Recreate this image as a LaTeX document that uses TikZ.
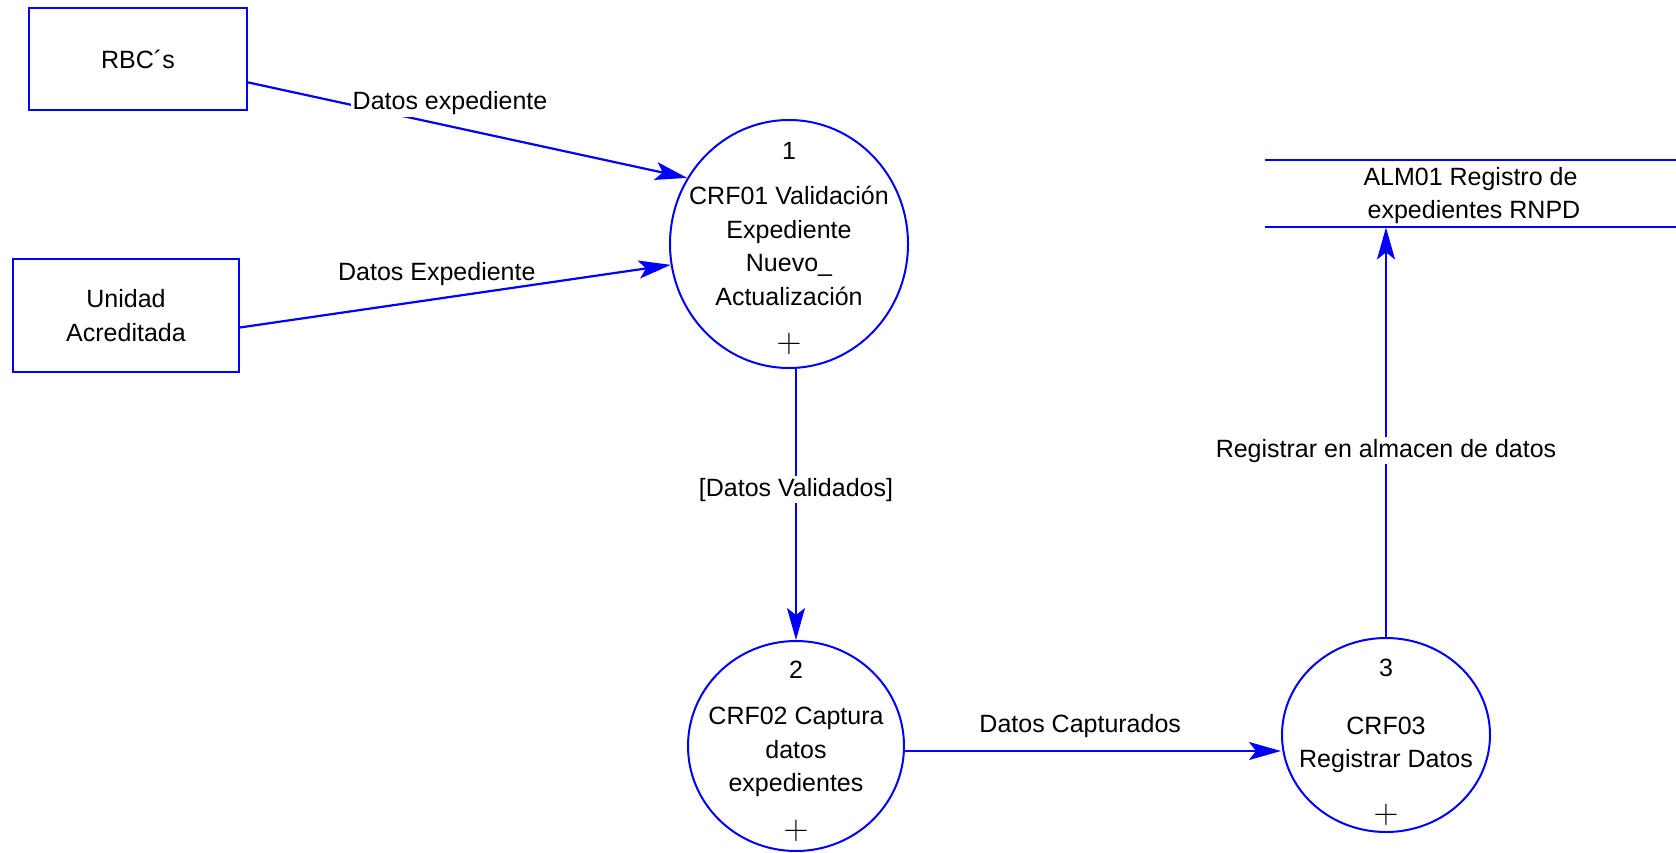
\documentclass[tikz,border=0pt]{standalone}
\usepackage{fontspec}
\setmainfont{Liberation Sans}
\usetikzlibrary{shapes.geometric,arrows.meta}
\tikzset{
  proc/.style={ellipse, draw=blue, line width=1pt, inner sep=0pt},
  ent/.style={rectangle, draw=blue, line width=1pt, align=center},
  flow/.style={draw=blue, line width=1.1pt, -{Stealth[length=16pt,width=9pt,inset=3.5pt]}},
  lbl/.style={fill=white, inner sep=1pt},
  plus/.style={font=\fontsize{17}{17}\selectfont}
}
\begin{document}
\begin{tikzpicture}[x=0.5pt,y=-0.5pt,font=\fontsize{12.5}{16.75}\selectfont]
    \useasboundingbox (0,0) rectangle (1676,852);
    \node[ent, minimum width=109pt, minimum height=51pt] (rbc) at (138,59) {RBC´s};
    \node[ent, minimum width=113pt, minimum height=56.5pt] (ua) at (126,315.5) {Unidad\\Acreditada};
    \node[proc, minimum width=119pt, minimum height=124pt] (p1) at (789,244) {};
    \node[align=center] (t1) at ([yshift=-1pt]p1.center) {CRF01 Validación\\Expediente\\Nuevo\_\\Actualización};
    \node (n1) at ([yshift=-16pt]p1.north) {1};
    \node[plus] (x1) at ([yshift=12.5pt]p1.south) {$+$};
    \node[proc, minimum width=108pt, minimum height=105pt] (p2) at (796,746) {};
    \node[align=center] (t2) at ([yshift=-3pt]p2.center) {CRF02 Captura\\datos\\expedientes};
    \node (n2) at ([yshift=-15pt]p2.north) {2};
    \node[plus] (x2) at ([yshift=10.5pt]p2.south) {$+$};
    \node[proc, minimum width=104pt, minimum height=97pt] (p3) at (1386,735) {};
    \node[align=center] (t3) at ([yshift=-5pt]p3.center) {CRF03\\Registrar Datos};
    \node (n3) at ([yshift=-15.5pt]p3.north) {3};
    \node[plus] (x3) at ([yshift=9pt]p3.south) {$+$};
    % almacen
    \node[minimum width=205.5pt, minimum height=33.5pt, align=center] (store) at (1470.5,193.5) {};
    \node[align=center] (t4) at ([yshift=-1pt]store.center) {ALM01 Registro de\\ \ expedientes RNPD};
    \draw[blue, line width=1pt] (store.north west) -- (store.north east) (store.south west) -- (store.south east);
    % flujos
    \draw[flow] (rbc.-12) -- (p1.147) node[lbl, pos=0.46, yshift=11.5pt] (l1) {Datos expediente};
    \draw[flow] (ua.-6) -- (p1.190) node[pos=0.457, yshift=12.5pt] (l2) {Datos Expediente};
    \draw[flow] (p1.south -| p2.north) -- (p2.north) node[lbl, pos=0.445] (l3) {[Datos Validados]};
    \draw[flow] ([yshift=-2.5pt]p2.east) -- ([yshift=-2.5pt]p2.east -| p3.west) node[pos=0.466, yshift=12.5pt] (l4) {Datos Capturados};
    \draw[flow] (p3.north) -- (p3.north |- store.south) node[lbl, pos=0.455] (l5) {Registrar en almacen de datos};
\end{tikzpicture}
\end{document}
